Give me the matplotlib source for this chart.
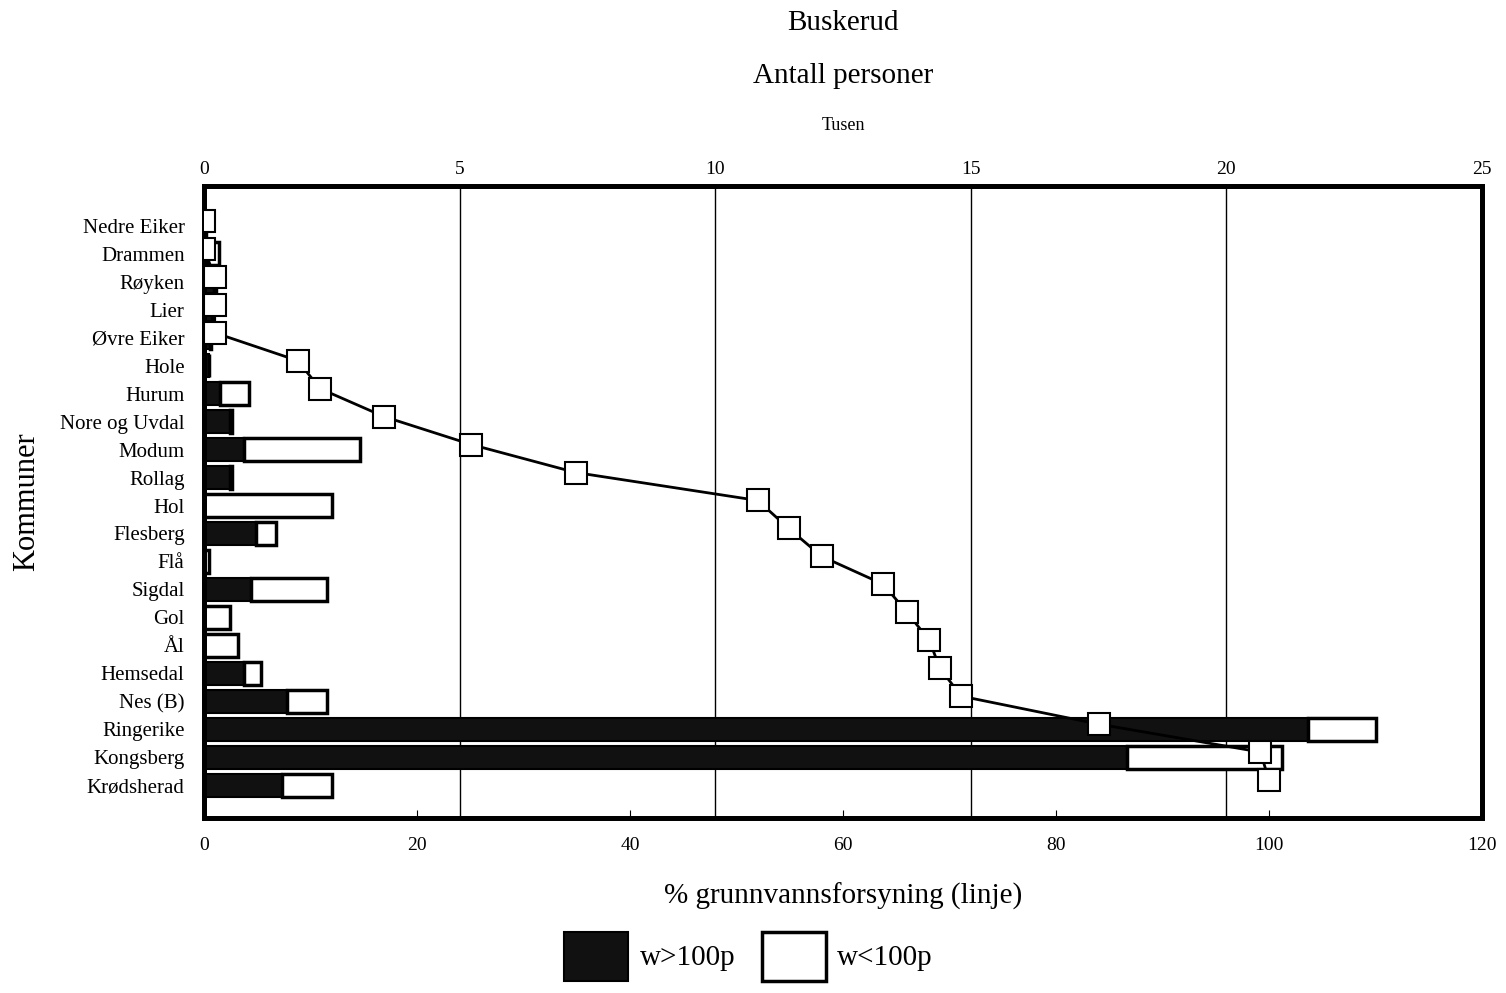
import matplotlib
matplotlib.use('Agg')
import matplotlib.pyplot as plt
from matplotlib.patches import Patch

plt.rcParams['font.family'] = ['Liberation Serif', 'DejaVu Serif']

# Data (bars in thousand persons, line in %)
kommuner = ['Nedre Eiker', 'Drammen', 'Røyken', 'Lier', 'Øvre Eiker', 'Hole', 'Hurum',
            'Nore og Uvdal', 'Modum', 'Rollag', 'Hol', 'Flesberg', 'Flå', 'Sigdal', 'Gol',
            'Ål', 'Hemsedal', 'Nes (B)', 'Ringerike', 'Kongsberg', 'Krødsherad']
w_over = [0.03, 0.05, 0.2, 0.15, 0.12, 0.1, 0.31, 0.5, 0.78, 0.5, 0.0, 1.02, 0.0,
          0.92, 0.0, 0.0, 0.78, 1.62, 21.6, 18.06, 1.53]
w_under = [0.0, 0.25, 0.03, 0.03, 0.02, 0.0, 0.57, 0.05, 2.27, 0.04, 2.5, 0.39, 0.1,
           1.49, 0.5, 0.67, 0.33, 0.79, 1.33, 3.03, 0.98]
pct_grunnvann = [0.0, 0.0, 1.0, 1.0, 1.0, 8.8, 10.9, 16.9, 25.1, 34.9, 52.0, 54.9, 58.0,
                 63.8, 66.0, 68.1, 69.1, 71.1, 84.0, 99.2, 100.0]

fig = plt.figure(figsize=(15.06, 9.93), dpi=100)
ax = fig.add_axes([0.1355, 0.1762, 0.8485, 0.6365])
ypos = list(range(len(kommuner)))

# line on the bottom axis (%)
ax.plot(pct_grunnvann, [y - 0.18 for y in ypos], color='black', lw=2, marker='s',
        markersize=16, markerfacecolor='white', markeredgecolor='black',
        markeredgewidth=1.5, zorder=5)
ax.set_xlim(0, 120)
ax.set_xticks(range(0, 121, 20))
ax.tick_params(axis='x', direction='in', length=6, labelsize=14, pad=14)
ax.set_xlabel('% grunnvannsforsyning (linje)', fontsize=21, labelpad=20)

ax.set_ylim(21.18, -1.43)
ax.set_yticks(ypos)
ax.set_yticklabels(kommuner, fontsize=15)
ax.tick_params(axis='y', length=0, pad=14)
ax.set_ylabel('Kommuner', fontsize=22, labelpad=14)

# bars on the top axis (thousands)
axt = ax.twiny()
axt.barh(ypos, w_over, height=0.82, color='#111111', edgecolor='black', lw=1.5, zorder=2)
axt.barh(ypos, w_under, left=w_over, height=0.82, color='white', edgecolor='black',
         lw=2.5, zorder=2)
axt.set_xlim(0, 25)
axt.set_xticks(range(0, 26, 5))
axt.tick_params(axis='x', length=0, labelsize=14, pad=6)
for v in [5, 10, 15, 20]:
    axt.axvline(v, color='black', lw=1, zorder=1)
axt.set_xlabel('Tusen', fontsize=13, labelpad=22)
ax.set_zorder(axt.get_zorder() + 1)
ax.patch.set_visible(False)

for a in (ax, axt):
    for s in a.spines.values():
        s.set_linewidth(3.5)

fig.text(0.56, 0.977, 'Buskerud', ha='center', va='center', fontsize=21)
fig.text(0.56, 0.923, 'Antall personer', ha='center', va='center', fontsize=21)

handles = [Patch(facecolor='#111111', edgecolor='black', lw=1.5),
           Patch(facecolor='white', edgecolor='black', lw=2.5)]
fig.legend(handles, ['w>100p', 'w<100p'], loc='center', bbox_to_anchor=(0.497, 0.037),
           ncol=2, frameon=False, fontsize=21, handlelength=2.2, handleheight=2.2,
           columnspacing=0.9, handletextpad=0.4)

fig.savefig('out.png', dpi=100)
